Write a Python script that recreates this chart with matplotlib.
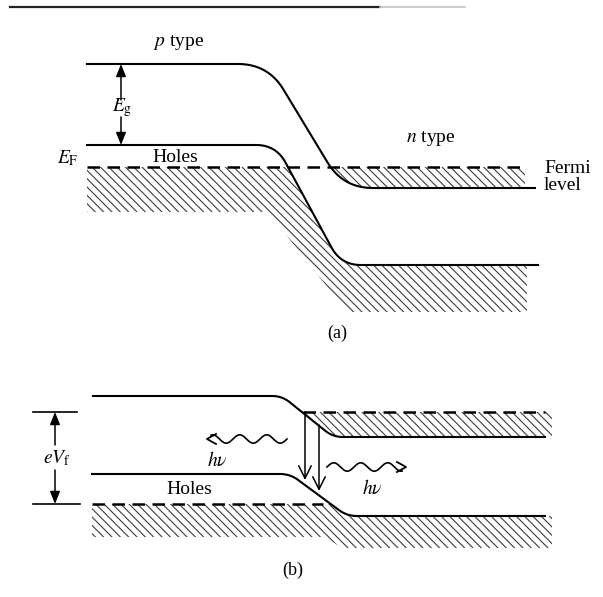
import numpy as np
import matplotlib
matplotlib.use("Agg")
import matplotlib.pyplot as plt

plt.rcParams['font.family'] = ['Liberation Serif', 'DejaVu Serif']
plt.rcParams['mathtext.fontset'] = 'stix'
plt.rcParams['hatch.linewidth'] = 0.8

W, H = 603, 597

# band edges in drawing units: (x_start, bend1, bend2, x_end, y_p_side, y_n_side, corner radius)
cb_a = (87, 268, 343, 535, 64, 188, 30)
vb_a = (87, 276, 341, 538, 145, 265, 20)
fermi_a = 167
fermi_a_x = (87, 520)
# hatched (filled) states, panel a
fill_a_p_x = [87, 268, 347, 527]
fill_a_p_bottom = [212, 212, 312, 312]
fill_a_n_x = (300, 525)

cb_b = (93, 282, 333, 545, 396, 437, 10)
vb_b = (92, 290, 347, 545, 474, 516, 10)
fermi_b_n, fermi_b_n_x = 412, (303, 545)
fermi_b_p, fermi_b_p_x = 504, (92, 323)
fill_b_p_x = [92, 325, 342, 552]
fill_b_p_bottom = [537, 537, 548, 548]
fill_b_n_x = (295, 552)

# recombination arrows (x, y_top, y_bottom)
transitions = [(305, 412, 480), (319, 425, 491)]
# photons: (x_tail, x_head, y)
photons = [(287, 207, 439), (327, 406, 467)]

HATCH = '\\\\\\\\'
HATCH_COLOR = '#3c3c3c'


def band_curve(x0, xa, xb, x1, y0, y1, r, n=40):
    pts = np.array([(x0, y0), (xa, y0), (xb, y1), (x1, y1)], float)
    out = [pts[0]]
    for i in (1, 2):
        p = pts[i]
        d1 = (pts[i - 1] - p) / np.linalg.norm(pts[i - 1] - p)
        d2 = (pts[i + 1] - p) / np.linalg.norm(pts[i + 1] - p)
        p1, p2 = p + r * d1, p + r * d2
        t = np.linspace(0, 1, n)[:, None]
        out.extend((1 - t) ** 2 * p1 + 2 * (1 - t) * t * p + t ** 2 * p2)
    out.append(pts[3])
    out = np.array(out)
    return out[:, 0], out[:, 1]


def solid_arrow(ax, x, y_from, y_to):
    ax.annotate('', xy=(x, y_to), xytext=(x, y_from),
                arrowprops=dict(arrowstyle='-|>,head_length=0.75,head_width=0.3',
                                color='k', lw=1.1, shrinkA=0, shrinkB=0))


def open_arrow(ax, x, y_from, y_to):
    ax.annotate('', xy=(x, y_to), xytext=(x, y_from),
                arrowprops=dict(arrowstyle='->,head_length=0.9,head_width=0.45',
                                color='k', lw=1.1, shrinkA=0, shrinkB=0))


def photon(ax, x_tail, x_head, y, amp=4.2, wl=27.0):
    sgn = np.sign(x_head - x_tail)
    xs = np.linspace(x_tail, x_head - sgn * 4, 200)
    ys = y + amp * np.sin(2 * np.pi * (xs - x_tail) / wl + np.pi)
    ax.plot(xs, ys, color='k', lw=1.2)
    hl, hw = 9, 5
    ax.plot([x_head - sgn * hl, x_head, x_head - sgn * hl],
            [y - hw, y, y + hw], color='k', lw=1.3)


fig = plt.figure(figsize=(W / 100, H / 100), dpi=100)
ax = fig.add_axes([0, 0, 1, 1])
ax.set_xlim(0, W)
ax.set_ylim(H, 0)
ax.axis('off')

# page rule
ax.plot([10, 380], [7, 7], color='#222222', lw=1.6)
ax.plot([380, 465], [7, 7], color='#c4c4c4', lw=1.2)

# ---- (a) equilibrium ----
cx, cy = band_curve(*cb_a)
vx, vy = band_curve(*vb_a)
ax.plot(cx, cy, color='k', lw=1.5)
ax.plot(vx, vy, color='k', lw=1.5)
ax.plot(fermi_a_x, [fermi_a, fermi_a], color='k', lw=1.8, dashes=(5, 3))

xs = np.linspace(fill_a_p_x[0], fill_a_p_x[-1], 600)
top = np.maximum(np.interp(xs, vx, vy), fermi_a)
bot = np.interp(xs, fill_a_p_x, fill_a_p_bottom)
ax.fill_between(xs, top, bot, facecolor='none', edgecolor=HATCH_COLOR, hatch=HATCH, lw=0)

xs = np.linspace(*fill_a_n_x, 400)
cyy = np.interp(xs, cx, cy)
ax.fill_between(xs, fermi_a, cyy, where=cyy > fermi_a, interpolate=True,
                facecolor='none', edgecolor=HATCH_COLOR, hatch=HATCH, lw=0)

solid_arrow(ax, 121, 100, 64)
solid_arrow(ax, 121, 117, 145)

ax.text(179, 42, '$p$ type', ha='center', va='center', fontsize=14)
ax.text(122, 108, r'$E_{\rm g}$', ha='center', va='center', fontsize=14)
ax.text(68, 158, r'$E_{\rm F}$', ha='center', va='center', fontsize=14)
ax.text(175, 157, 'Holes', ha='center', va='center', fontsize=14)
ax.text(431, 138, '$n$ type', ha='center', va='center', fontsize=14)
ax.text(544, 177, 'Fermi\nlevel', ha='left', va='center', fontsize=14, linespacing=1.0)
ax.text(337, 333, '(a)', ha='center', va='center', fontsize=13)

# ---- (b) forward bias ----
cx, cy = band_curve(*cb_b)
vx, vy = band_curve(*vb_b)
ax.plot(cx, cy, color='k', lw=1.5)
ax.plot(vx, vy, color='k', lw=1.5)
ax.plot(fermi_b_n_x, [fermi_b_n, fermi_b_n], color='k', lw=1.8, dashes=(5, 3))
ax.plot(fermi_b_p_x, [fermi_b_p, fermi_b_p], color='k', lw=1.8, dashes=(5, 3))

xs = np.linspace(fill_b_p_x[0], fill_b_p_x[-1], 600)
top = np.maximum(np.interp(xs, vx, vy), fermi_b_p)
bot = np.interp(xs, fill_b_p_x, fill_b_p_bottom)
ax.fill_between(xs, top, bot, facecolor='none', edgecolor=HATCH_COLOR, hatch=HATCH, lw=0)

xs = np.linspace(*fill_b_n_x, 400)
cyy = np.interp(xs, cx, cy)
ax.fill_between(xs, fermi_b_n, cyy, where=cyy > fermi_b_n, interpolate=True,
                facecolor='none', edgecolor=HATCH_COLOR, hatch=HATCH, lw=0)

for x, y0, y1 in transitions:
    open_arrow(ax, x, y0, y1)
for xt, xh, y in photons:
    photon(ax, xt, xh, y)

# applied voltage marker
ax.plot([33, 77], [fermi_b_n, fermi_b_n], color='k', lw=1.2)
ax.plot([33, 80], [fermi_b_p, fermi_b_p], color='k', lw=1.2)
solid_arrow(ax, 55, 445, fermi_b_n)
solid_arrow(ax, 55, 470, fermi_b_p)

ax.text(57, 458, r'$eV_{\rm f}$', ha='center', va='center', fontsize=14)
ax.text(217, 460, r'$h\nu$', ha='center', va='center', fontsize=14)
ax.text(372, 488, r'$h\nu$', ha='center', va='center', fontsize=14)
ax.text(189, 490, 'Holes', ha='center', va='center', fontsize=14)
ax.text(293, 570, '(b)', ha='center', va='center', fontsize=13)

fig.savefig('out.png', dpi=100, facecolor='white')
